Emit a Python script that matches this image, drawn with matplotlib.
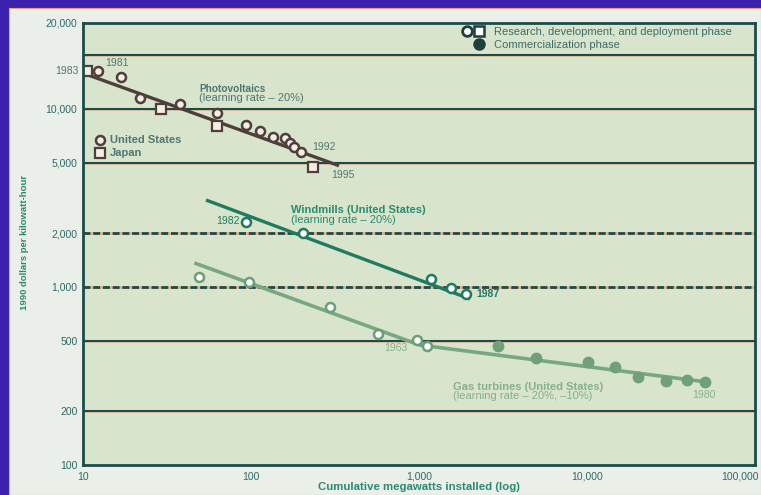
import matplotlib
matplotlib.use('Agg')
import matplotlib.pyplot as plt
from matplotlib.lines import Line2D
from matplotlib.legend_handler import HandlerTuple
from matplotlib.patches import Rectangle
import matplotlib.transforms as mtransforms

plt.rcParams['font.family'] = ['Liberation Sans', 'DejaVu Sans']

# Photovoltaics
pv_us_x = [12.3, 16.8, 21.8, 37.8, 62.8, 93, 113, 135, 159, 171, 180, 199]
pv_us_y = [16300, 15100, 11500, 10700, 9500, 8100, 7500, 7000, 6900, 6400, 6100, 5700]
pv_jp_x = [10.6, 29, 63, 234]
pv_jp_y = [16300, 10000, 8000, 4700]
pv_fit_x = [10, 334]
pv_fit_y = [15900, 4800]

# Windmills
wind_x = [93, 204, 1180, 1550, 1900]
wind_y = [2320, 2010, 1110, 985, 915]
wind_fit_x = [54, 2010]
wind_fit_y = [3080, 857]

# Gas turbines
gas_rd_x = [49, 97, 295, 570, 970, 1120]
gas_rd_y = [1140, 1070, 775, 545, 505, 467]
gas_com_x = [2950, 4970, 10100, 14700, 20100, 29500, 39400, 50400]
gas_com_y = [467, 399, 379, 356, 312, 297, 301, 293]
gas_fit_x = [46, 1010, 52500]
gas_fit_y = [1365, 472, 292]

x_ticks = [10, 100, 1000, 10000, 100000]
x_labels = ['10', '100', '1,000', '10,000', '100,000']
y_ticks = [100, 200, 500, 1000, 2000, 5000, 10000]
y_labels = ['100', '200', '500', '1,000', '2,000', '5,000', '10,000']
solid_grid = [200, 500, 5000, 10000, 20000]
dotted_grid = [1000, 2000]

y_top = 10 ** 4.483

c_frame = '#1d4b49'
c_salmon = '#e9a27c'
c_tick = '#2f6a68'
c_pv = '#4d403a'
c_pv_txt = '#4f7772'
c_wind = '#1f7a60'
c_gas = '#78a880'
c_gas_txt = '#85b08e'
c_axis_txt = '#2a8a70'

fig = plt.figure(figsize=(7.61, 4.95), dpi=100, facecolor='#3b21ad')
fig.patches.append(Rectangle((9 / 761, 0), 752 / 761, 487 / 495, transform=fig.transFigure,
                             facecolor='#eaf0e9', edgecolor=c_salmon, lw=0.8, zorder=-10))

ax = fig.add_axes([83 / 761, 30 / 495, 672 / 761, 442 / 495])
ax.set_facecolor('#d9e4cd')
ax.set_xscale('log')
ax.set_yscale('log')
ax.set_xlim(10, 100000)
ax.set_ylim(100, y_top)

for v in solid_grid:
    ax.axhline(v, color=c_salmon, lw=2.0, alpha=0.6, zorder=1)
    ax.axhline(v, color=c_frame, lw=1.5, zorder=1.1)
for v in dotted_grid:
    ax.axhline(v, color=c_salmon, lw=2.0, alpha=0.8, zorder=1)
    ax.axhline(v, color=c_frame, lw=2.0, ls=(0, (2.5, 1)), zorder=1.1)

# fitted lines
ax.plot(pv_fit_x, pv_fit_y, color=c_pv, lw=2.4, solid_capstyle='butt', zorder=2)
ax.plot(wind_fit_x, wind_fit_y, color=c_wind, lw=2.4, solid_capstyle='butt', zorder=2)
ax.plot(gas_fit_x, gas_fit_y, color=c_gas, lw=2.6, solid_capstyle='butt', zorder=2)

# points
ax.plot(pv_us_x, pv_us_y, 'o', ms=6.5, mfc='#f7ede6', mec=c_pv, mew=1.8, zorder=3)
ax.plot(pv_jp_x, pv_jp_y, 's', ms=7, mfc='#f7ede6', mec=c_pv, mew=1.6, zorder=3)
ax.plot(wind_x, wind_y, 'o', ms=6.5, mfc='white', mec=c_wind, mew=1.8, zorder=3)
ax.plot(gas_rd_x, gas_rd_y, 'o', ms=6.5, mfc='white', mec='#6c9f77', mew=1.8, zorder=3)
ax.plot(gas_com_x, gas_com_y, 'o', ms=7.5, color='#70a079', zorder=3)

# annotations
fs = 8
fy = 7.5
ax.text(9.47, 16340, '1983', ha='right', va='center', fontsize=fy, color=c_pv_txt)
ax.text(13.5, 18100, '1981', ha='left', va='center', fontsize=fy, color=c_pv_txt)
ax.text(49, 12950, 'Photovoltaics', ha='left', va='center', fontsize=7.3, color=c_pv_txt, fontweight='bold')
ax.text(49, 11530, '(learning rate \u2013 20%)', ha='left', va='center', fontsize=fs, color=c_pv_txt)
ax.text(231, 6120, '1992', ha='left', va='center', fontsize=fy, color=c_pv_txt)
ax.text(299, 4260, '1995', ha='left', va='center', fontsize=fy, color=c_pv_txt)
ax.text(86, 2350, '1982', ha='right', va='center', fontsize=fy, color=c_wind)
ax.text(173, 2710, 'Windmills (United States)', ha='left', va='center', fontsize=fs, color=c_axis_txt, fontweight='bold')
ax.text(173, 2380, '(learning rate \u2013 20%)', ha='left', va='center', fontsize=fs, color=c_axis_txt)
ax.text(2210, 914, '1987', ha='left', va='center', fontsize=fy, color=c_wind, fontweight='bold')
ax.text(620, 454, '1963', ha='left', va='center', fontsize=fy, color=c_gas_txt)
ax.text(1590, 274, 'Gas turbines (United States)', ha='left', va='center', fontsize=fs, color=c_gas_txt, fontweight='bold')
ax.text(1590, 245, '(learning rate \u2013 20%, \u201310%)', ha='left', va='center', fontsize=fs, color=c_gas_txt)
ax.text(42200, 247, '1980', ha='left', va='center', fontsize=fy, color=c_gas_txt)

# country key
us_h = Line2D([], [], ls='none', marker='o', ms=6.5, mfc='#f7ede6', mec=c_pv, mew=1.8)
jp_h = Line2D([], [], ls='none', marker='s', ms=7, mfc='#f7ede6', mec=c_pv, mew=1.6)
key = ax.legend([us_h, jp_h], ['United States', 'Japan'], loc='upper left',
                bbox_to_anchor=(0.0171, 0.7456), frameon=False,
                handlelength=1.0, handletextpad=0.4, labelspacing=0.27,
                borderpad=0, borderaxespad=0, labelcolor=c_pv_txt,
                prop={'weight': 'bold', 'size': 8})
ax.add_artist(key)

# phase legend
rd_c = Line2D([], [], ls='none', marker='o', ms=7, mfc='white', mec='#1e3f3c', mew=2)
rd_s = Line2D([], [], ls='none', marker='s', ms=7.5, mfc='white', mec='#1e3f3c', mew=1.8)
blank = Line2D([], [], ls='none')
com_c = Line2D([], [], ls='none', marker='o', ms=8, color='#1e3f3c')
ax.legend([(rd_c, rd_s), (blank, com_c)],
          ['Research, development, and deployment phase', 'Commercialization phase'],
          handler_map={tuple: HandlerTuple(ndivide=None, pad=0.1)},
          loc='upper left', bbox_to_anchor=(0.563, 0.9905), frameon=False, fontsize=8,
          handlelength=2.05, handletextpad=0.85, labelspacing=0.27,
          borderpad=0, borderaxespad=0, labelcolor='#3c6d6a')

# axes styling
ax.set_xticks(x_ticks)
ax.set_xticklabels(x_labels)
ax.set_yticks(y_ticks + [y_top])
ax.set_yticklabels(y_labels + ['20,000'])
ax.minorticks_off()
ax.tick_params(axis='both', length=0, labelsize=7.5, labelcolor=c_tick)
ax.tick_params(axis='x', pad=5)
ax.tick_params(axis='y', pad=4)
last = ax.get_xticklabels()[-1]
last.set_transform(last.get_transform() + mtransforms.ScaledTranslation(-15 / 100, 0, fig.dpi_scale_trans))
for s in ax.spines.values():
    s.set_color(c_frame)
    s.set_linewidth(2)
    s.set_zorder(4)

ax.set_xlabel('Cumulative megawatts installed (log)', fontsize=8.2, fontweight='bold',
              color=c_axis_txt, labelpad=0)
ax.set_ylabel('1990 dollars per kilowatt-hour', fontsize=6.8, fontweight='bold',
              color=c_axis_txt)
ax.yaxis.set_label_coords(-54 / 672, (465 - 242) / 442)

fig.savefig('out.png', dpi=100, facecolor=fig.get_facecolor())
